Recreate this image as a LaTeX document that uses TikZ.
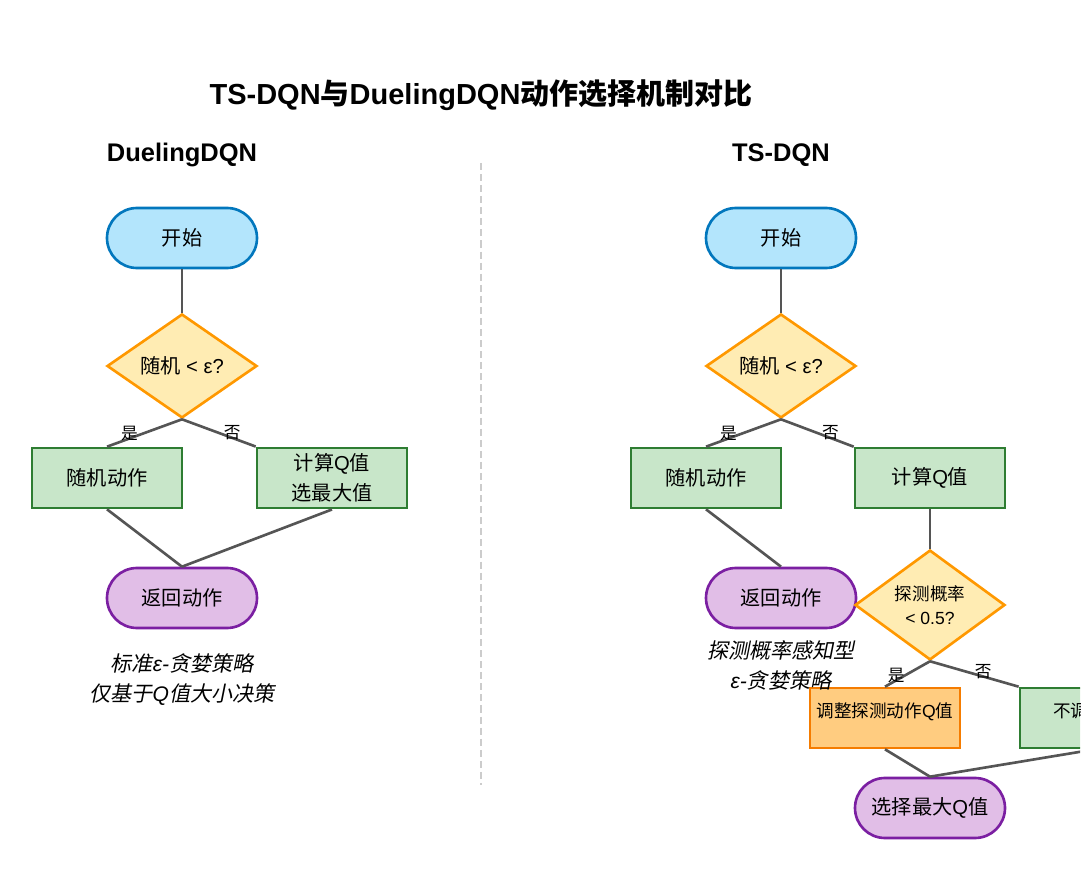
\documentclass[tikz,border=0pt]{standalone}
\usepackage{fontspec}
\setmainfont{Liberation Sans}
\newfontfamily\cjkfont{Noto Sans CJK SC}[ItalicFont=Noto Sans CJK SC, ItalicFeatures={FakeSlant=0.2}]
\newcommand\sysfont{\fontfamily{\familydefault}\selectfont}
\XeTeXinterchartokenstate=1
\newXeTeXintercharclass\cjkclass
\newcount\cjkcode
\cjkcode="4E00
\loop
  \XeTeXcharclass\cjkcode=\cjkclass
  \advance\cjkcode by 1
\ifnum\cjkcode<"A000 \repeat
\XeTeXinterchartoks 0 \cjkclass = {\cjkfont}
\XeTeXinterchartoks 4095 \cjkclass = {\cjkfont}
\XeTeXinterchartoks \cjkclass 0 = {\sysfont}
\XeTeXinterchartoks \cjkclass 4095 = {\sysfont}
\usetikzlibrary{shapes.geometric, positioning}
\definecolor{startFill}{HTML}{B3E5FC}
\definecolor{startDraw}{HTML}{0277BD}
\definecolor{checkFill}{HTML}{FFECB3}
\definecolor{checkDraw}{HTML}{FF9800}
\definecolor{actFill}{HTML}{C8E6C9}
\definecolor{actDraw}{HTML}{2E7D32}
\definecolor{retFill}{HTML}{E1BEE7}
\definecolor{retDraw}{HTML}{7B1FA2}
\definecolor{adjFill}{HTML}{FFCC80}
\definecolor{adjDraw}{HTML}{F57C00}
\definecolor{lineGray}{HTML}{555555}
\definecolor{sepGray}{HTML}{CCCCCC}

\begin{document}
\begin{tikzpicture}[node distance=2.56cm, font=\fontsize{11.5}{17}\selectfont]
                    \tikzstyle{terminal} = [draw=startDraw, fill=startFill, rectangle, rounded corners=0.6cm, minimum width=3cm, minimum height=1.2cm, line width=1.5pt]
                    \tikzstyle{result} = [terminal, draw=retDraw, fill=retFill]
                    \tikzstyle{decision} = [draw=checkDraw, fill=checkFill, diamond, minimum width=3cm, minimum height=2.08cm, inner sep=0pt, align=center, line width=1.5pt]
                    \tikzstyle{action} = [draw=actDraw, fill=actFill, rectangle, minimum width=3cm, minimum height=1.2cm, align=center, line width=1.5pt]
                    \tikzstyle{adjust} = [action, draw=adjDraw, fill=adjFill]
                    \tikzstyle{line} = [draw=lineGray, line width=1.5pt]
                    \tikzstyle{lbl} = [font=\fontsize{9.5}{11}\selectfont, inner sep=1pt]
                    \tikzstyle{caption} = [align=center, font=\fontsize{12}{17}\selectfont\itshape]
                    \tikzstyle{heading} = [font=\fontsize{14.5}{17}\selectfont\bfseries]

                    \useasboundingbox (0,0) rectangle (21.82,-17.82);

                    \node [font=\fontsize{16.5}{20}\selectfont\bfseries] (title) at (9.62,-1.9) {TS-DQN与DuelingDQN动作选择机制对比};
                    \node [heading] (headL) at (3.64,-3.1) {DuelingDQN};
                    \node [heading] (headR) at (15.62,-3.1) {TS-DQN};
                    \coordinate (sepTop) at (9.62,-3.26);
                    \coordinate (sepBot) at (9.62,-15.7);
                    \draw [sepGray, line width=1.7pt, dash pattern=on 4pt off 2.3pt] (sepTop) -- (sepBot);

                    \node [terminal] (startL) at (3.64,-4.76) {开始};
                    \node [decision, below of=startL] (randCheckL) {随机 < ε?};
                    \node [action, below of=randCheckL, node distance=2.24cm, xshift=-1.5cm] (randActL) {随机动作};
                    \node [action, below of=randCheckL, node distance=2.24cm, xshift=3cm] (calcL) {计算Q值\\选最大值};
                    \node [result, below of=randCheckL, node distance=4.64cm] (returnL) {返回动作};
                    \node [caption] (noteL) at (3.64,-13.6) {标准ε-贪婪策略\\仅基于Q值大小决策};

                    \path [line] (startL) -- (randCheckL);
                    \path [line] (randCheckL.south) -- node [lbl, pos=0.7, yshift=0.1cm] {是} (randActL.north);
                    \path [line] (randCheckL.south) -- node [lbl, pos=0.68, yshift=0.1cm] {否} (calcL.north west);
                    \path [line] (randActL.south) -- (returnL.north);
                    \path [line] (calcL.south) -- (returnL.north);

                    \node [terminal] (startR) at (15.62,-4.76) {开始};
                    \node [decision, below of=startR] (randCheckR) {随机 < ε?};
                    \node [action, below of=randCheckR, node distance=2.24cm, xshift=-1.5cm] (randActR) {随机动作};
                    \node [action, below of=randCheckR, node distance=2.24cm, xshift=2.98cm] (calcR) {计算Q值};
                    \node [result, below of=randCheckR, node distance=4.64cm] (returnR) {返回动作};
                    \node [decision, below of=calcR, node distance=2.54cm, font=\fontsize{10}{14}\selectfont] (probCheckR) {探测概率\\< 0.5?};
                    \node [adjust, below of=probCheckR, node distance=2.26cm, xshift=-0.9cm, text depth=0.3cm, font=\fontsize{10}{12}\selectfont] (adjR) {调整探测动作Q值};
                    \node [result, below of=probCheckR, node distance=4.06cm] (selectR) {选择最大Q值};
                    \node [caption] (noteR) at (15.62,-13.31) {探测概率感知型\\ε-贪婪策略};

                    \path [line] (startR) -- (randCheckR);
                    \path [line] (randCheckR.south) -- node [lbl, pos=0.7, yshift=0.1cm] {是} (randActR.north);
                    \path [line] (randCheckR.south) -- node [lbl, pos=0.68, yshift=0.1cm] {否} (calcR.north west);
                    \path [line] (randActR.south) -- (returnR.north);
                    \path [line] (calcR) -- (probCheckR);
                    \path [line] (probCheckR.south) -- node [lbl, pos=0.75, yshift=0.1cm] {是} (adjR.north);
                    \path [line] (adjR.south) -- (selectR.north);

                    \begin{scope}
                        \clip (0,0) rectangle (21.6,-17.82);
                        \node [action, below of=probCheckR, node distance=2.26cm, xshift=3.3cm, text depth=0.3cm, font=\fontsize{10}{12}\selectfont] (noAdjR) {不调整Q值};
                        \path [line] (probCheckR.south) -- node [lbl, pos=0.6, yshift=0.1cm] {否} (noAdjR.north west);
                        \path [line] (noAdjR.south) -- (selectR.north);
                    \end{scope}
                \end{tikzpicture}
\end{document}
